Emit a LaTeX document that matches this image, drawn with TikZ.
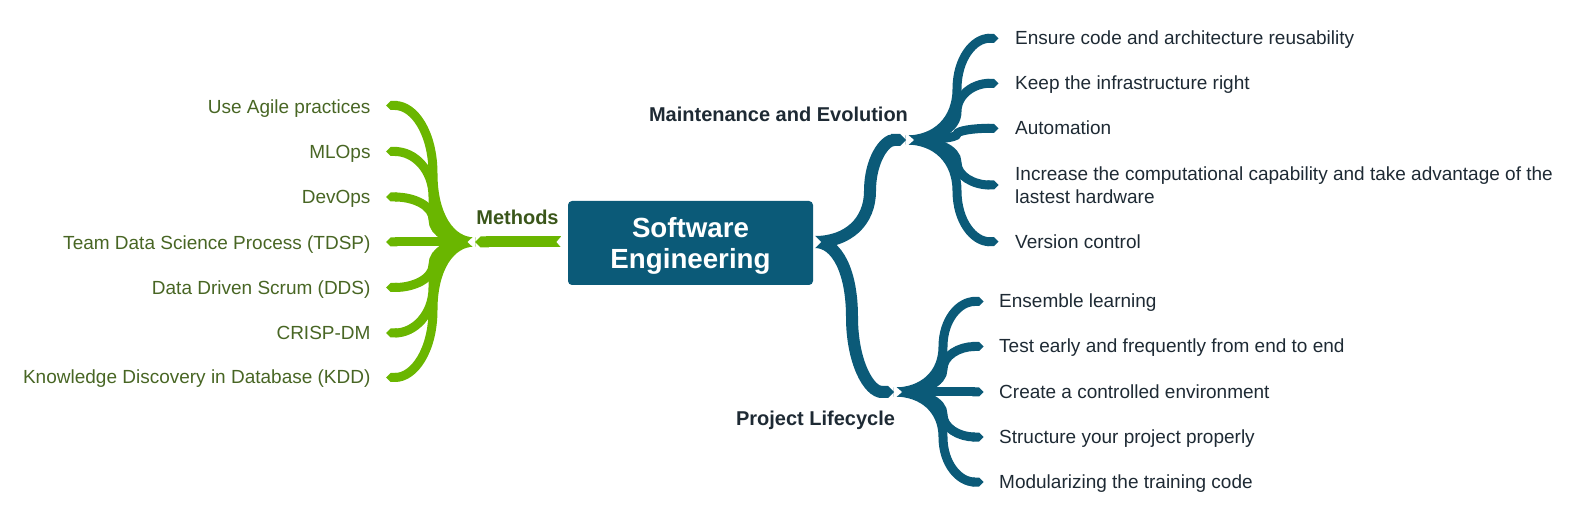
\documentclass[tikz,border=0pt]{standalone}
\usepackage{fontspec}
\setmainfont{Liberation Sans}
\usetikzlibrary{arrows.meta}
\definecolor{tealc}{RGB}{11,90,120}
\definecolor{greenc}{RGB}{106,182,0}
\definecolor{darktext}{RGB}{30,42,52}
\definecolor{lefttext}{RGB}{72,102,36}
\definecolor{methtext}{RGB}{58,86,26}
\begin{document}
\begin{tikzpicture}[x=1pt,y=-1pt,
  leafR/.style={anchor=base west, inner sep=0pt, font=\fontsize{19}{22.7}\selectfont, text=darktext},
  leafL/.style={anchor=base east, inner sep=0pt, font=\fontsize{19}{22.7}\selectfont, text=lefttext},
  lab/.style={anchor=base, inner sep=0pt, font=\fontsize{20}{24}\selectfont\bfseries, text=darktext},
  centerbox/.style={fill=tealc, rounded corners=4pt, minimum width=245pt, minimum height=84pt,
    inner sep=0pt, text=white, align=center, text depth=0pt,
    font=\fontsize{27.7}{31}\selectfont\bfseries},
  tealrib/.style={draw=tealc, line width=9pt, -{Triangle Cap}},
  tealmain/.style={draw=tealc, line width=12pt, -{Triangle Cap}},
  greenrib/.style={draw=greenc, line width=9pt, -{Triangle Cap}},
  greenmain/.style={draw=greenc, line width=11pt, -{Triangle Cap}},
  notch/.style={fill=white, draw=none}
]
\useasboundingbox (0,0) rectangle (1577,510);

% centre
\node[centerbox] (se) at (690.5,243) {Software\\Engineering};

% ---------- coordinates ----------
\coordinate (cs) at (815,242);      % start of teal branches
\coordinate (mj) at (906,140);      % maintenance junction
\coordinate (pj) at (894,392);      % project junction
\coordinate (gs) at (561,242);      % start of green main ribbon
\coordinate (gj) at (475,242);      % green junction

% ---------- Maintenance and Evolution ----------
\node[leafR] (m1) at (1015,44.8) {Ensure code and architecture reusability};
\node[leafR] (m2) at (1015,89.8) {Keep the infrastructure right};
\node[leafR] (m3) at (1015,135) {Automation};
\node[leafR, anchor=west, align=left] (m4) at (1015,185.2) {Increase the computational capability and take advantage of the\\lastest hardware};
\node[leafR] (m5) at (1015,248.5) {Version control};
\coordinate (m1t) at (998.5,38.3);
\coordinate (m2t) at (998.5,83.3);
\coordinate (m3t) at (998.5,128.3);
\coordinate (m4t) at (998.5,185);
\coordinate (m5t) at (998.5,241.7);
\foreach \t/\yt in {m1t/38.3,m2t/83.3,m3t/128.3,m4t/185,m5t/241.7}{
  \pgfmathsetmacro\ym{(140+\yt)/2}
  \pgfmathsetmacro\h{0.3*(140-\yt)}
  \draw[tealrib] (mj) .. controls +(30.6,0) and +(0,\h) .. (957,\ym)
     .. controls +(0,-\h) and +(-24.9,0) .. (\t);
}
\fill[notch] (906,133) -- (906,147) -- (914,140) -- cycle;

% ---------- Project Lifecycle ----------
\node[leafR] (p1) at (999,307.8) {Ensemble learning};
\node[leafR] (p2) at (999,352.8) {Test early and frequently from end to end};
\node[leafR] (p3) at (999,398.5) {Create a controlled environment};
\node[leafR] (p4) at (999,443.5) {Structure your project properly};
\node[leafR] (p5) at (999,488.5) {Modularizing the training code};
\coordinate (p1t) at (983.5,301.5);
\coordinate (p2t) at (983.5,346.5);
\coordinate (p3t) at (983.5,392);
\coordinate (p4t) at (983.5,437);
\coordinate (p5t) at (983.5,482);
\foreach \t/\yt in {p1t/301.5,p2t/346.5,p3t/392,p4t/437,p5t/482}{
  \pgfmathsetmacro\ym{(392+\yt)/2}
  \pgfmathsetmacro\h{0.3*(392-\yt)}
  \draw[tealrib] (pj) .. controls +(29.4,0) and +(0,\h) .. (943,\ym)
     .. controls +(0,-\h) and +(-24.3,0) .. (\t);
}
\fill[notch] (894,385) -- (894,399) -- (902,392) -- cycle;

% main teal branches
\draw[tealmain] (cs) .. controls +(33,0) and +(0,30.6) .. (870,191)
   .. controls +(0,-30.6) and +(-21.6,0) .. (mj);
\draw[tealmain] (cs) .. controls +(22.2,0) and +(0,-45) .. (852,317)
   .. controls +(0,45) and +(-25.2,0) .. (pj);
\fill[notch] (814,235) -- (814,249) -- (821,242) -- cycle;

\node[lab] (ml) at (778.5,122) {Maintenance and Evolution};
\node[lab] (pl) at (815.5,425.5) {Project Lifecycle};

% ---------- Methods ----------
\node[leafL] (g1) at (370.7,113.5) {Use Agile practices};
\node[leafL] (g2) at (370.7,158.5) {MLOps};
\node[leafL] (g3) at (370.7,203.8) {DevOps};
\node[leafL] (g4) at (370.7,249.5) {Team Data Science Process (TDSP)};
\node[leafL] (g5) at (370.7,294.5) {Data Driven Scrum (DDS)};
\node[leafL] (g6) at (370.7,339.8) {CRISP-DM};
\node[leafL] (g7) at (370.7,383.8) {Knowledge Discovery in Database (KDD)};
\coordinate (g1t) at (386,105.5);
\coordinate (g2t) at (386,151.5);
\coordinate (g3t) at (386,197);
\coordinate (g4t) at (386,242);
\coordinate (g5t) at (386,287.5);
\coordinate (g6t) at (386,333);
\coordinate (g7t) at (386,377.5);
\foreach \t/\yt in {g1t/105.5,g2t/151.5,g3t/197,g4t/242,g5t/287.5,g6t/333,g7t/377.5}{
  \pgfmathsetmacro\ym{(242+\yt)/2}
  \pgfmathsetmacro\h{0.3*(242-\yt)}
  \draw[greenrib] (gj) .. controls +(-25.2,0) and +(0,\h) .. (433,\ym)
     .. controls +(0,-\h) and +(28.2,0) .. (\t);
}
\fill[notch] (475,235) -- (475,249) -- (467.5,242) -- cycle;
\draw[greenmain] (gs) -- (gj);
\fill[notch] (562,235.5) -- (562,248.5) -- (556.5,242) -- cycle;

\node[lab, text=methtext] (meth) at (517.5,224.5) {Methods};
\end{tikzpicture}
\end{document}
